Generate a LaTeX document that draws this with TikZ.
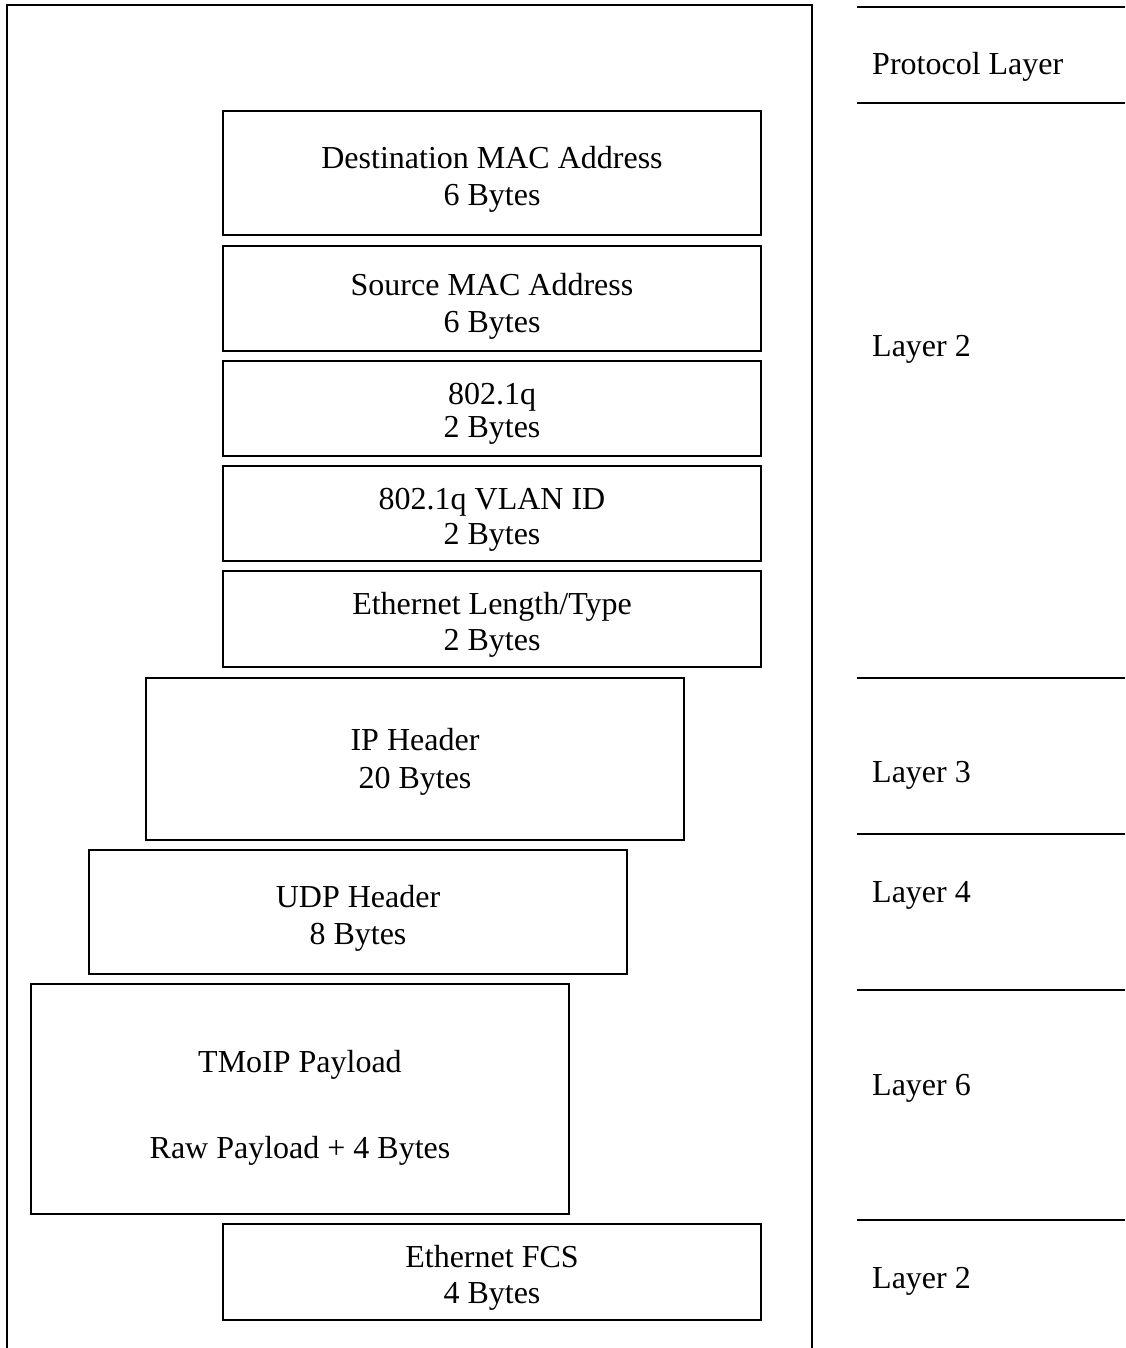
\documentclass[tikz,border=0pt]{standalone}
\usepackage{fontspec}
\setmainfont{Liberation Serif}
\begin{document}
\begin{tikzpicture}[x=1pt,y=-1pt,
  field/.style={draw, line width=1.5pt, minimum width=538pt, inner sep=0pt},
  fieldtext/.style={inner sep=0pt, align=center, font=\fontsize{32}{37}\selectfont},
  layerlabel/.style={anchor=west, inner sep=0pt, font=\fontsize{32}{37}\selectfont},
  rule/.style={line width=2pt}]
\useasboundingbox (0,0) rectangle (1125,1348);
% outer frame (open at the bottom)
\draw[rule] (7,1348) -- (7,5) -- (812,5) -- (812,1348);
% right side separators
\foreach \yy in {7,103,678,834,990,1220} \draw[rule] (857,\yy) -- (1125,\yy);
% field boxes
\node[field, minimum height=124pt] (dst) at (492,173) {};
\node[field, minimum height=105pt] (src) at (492,298.5) {};
\node[field, minimum height=95pt] (q) at (492,408.5) {};
\node[field, minimum height=95pt] (vlan) at (492,513.5) {};
\node[field, minimum height=96pt] (eth) at (492,619) {};
\node[field, minimum height=162pt] (ip) at (415,759) {};
\node[field, minimum height=124pt] (udp) at (358,912) {};
\node[field, minimum height=230pt] (tmoip) at (300,1099) {};
\node[field, minimum height=96pt] (fcs) at (492,1272) {};
% field texts
\node[fieldtext, yshift=-6pt] (dstT) at (dst.center) {Destination MAC Address\\6 Bytes};
\node[fieldtext, yshift=-7.5pt] (srcT) at (src.center) {Source MAC Address\\6 Bytes};
\node[fieldtext, yshift=-5pt] (qT) at (q.center) {802.1q\\[-4pt]2 Bytes};
\node[fieldtext, yshift=-6.5pt] (vlanT) at (vlan.center) {802.1q VLAN ID\\[-2pt]2 Bytes};
\node[fieldtext, yshift=-5.5pt] (ethT) at (eth.center) {Ethernet Length/Type\\[-1pt]2 Bytes};
\node[fieldtext, yshift=-2.5pt] (ipT) at (ip.center) {IP Header\\[1pt]20 Bytes};
\node[fieldtext, yshift=-6pt] (udpT) at (udp.center) {UDP Header\\8 Bytes};
\node[fieldtext, yshift=-9pt] (tmoipT) at (tmoip.center) {TMoIP Payload\\[49pt]Raw Payload + 4 Bytes};
\node[fieldtext, yshift=-5.5pt] (fcsT) at (fcs.center) {Ethernet FCS\\[-1pt]4 Bytes};
% layer labels
\node[layerlabel] (lp) at (872,67) {Protocol Layer};
\node[layerlabel] (l2a) at (872,349) {Layer 2};
\node[layerlabel] (l3) at (872,775) {Layer 3};
\node[layerlabel] (l4) at (872,895) {Layer 4};
\node[layerlabel] (l6) at (872,1088) {Layer 6};
\node[layerlabel] (l2b) at (872,1281) {Layer 2};
\end{tikzpicture}
\end{document}
